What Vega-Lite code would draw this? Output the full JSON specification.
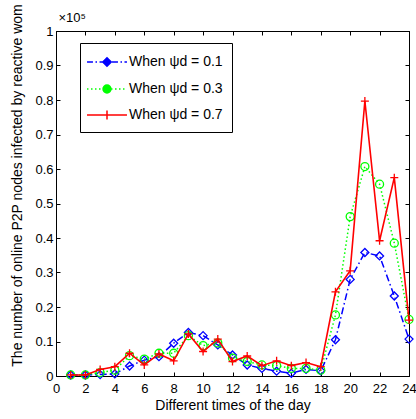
{
  "$schema": "https://vega.github.io/schema/vega-lite/v6.json",
  "width": 353,
  "height": 345,
  "autosize": {"type": "none"},
  "padding": {"left": 56, "top": 31, "right": 7, "bottom": 43},
  "background": "white",
  "datasets": {
    "d": [
      {"t": 1, "v": 0.003, "s": "When ψd = 0.1"}, {"t": 2, "v": 0.003, "s": "When ψd = 0.1"}, {"t": 3, "v": 0.004, "s": "When ψd = 0.1"}, {"t": 4, "v": 0.006, "s": "When ψd = 0.1"},
      {"t": 5, "v": 0.029, "s": "When ψd = 0.1"}, {"t": 6, "v": 0.046, "s": "When ψd = 0.1"}, {"t": 7, "v": 0.056, "s": "When ψd = 0.1"}, {"t": 8, "v": 0.095, "s": "When ψd = 0.1"},
      {"t": 9, "v": 0.126, "s": "When ψd = 0.1"}, {"t": 10, "v": 0.117, "s": "When ψd = 0.1"}, {"t": 11, "v": 0.090, "s": "When ψd = 0.1"}, {"t": 12, "v": 0.061, "s": "When ψd = 0.1"},
      {"t": 13, "v": 0.032, "s": "When ψd = 0.1"}, {"t": 14, "v": 0.022, "s": "When ψd = 0.1"}, {"t": 15, "v": 0.014, "s": "When ψd = 0.1"}, {"t": 16, "v": 0.008, "s": "When ψd = 0.1"},
      {"t": 17, "v": 0.019, "s": "When ψd = 0.1"}, {"t": 18, "v": 0.015, "s": "When ψd = 0.1"}, {"t": 19, "v": 0.105, "s": "When ψd = 0.1"}, {"t": 20, "v": 0.280, "s": "When ψd = 0.1"},
      {"t": 21, "v": 0.358, "s": "When ψd = 0.1"}, {"t": 22, "v": 0.348, "s": "When ψd = 0.1"}, {"t": 23, "v": 0.232, "s": "When ψd = 0.1"}, {"t": 24, "v": 0.107, "s": "When ψd = 0.1"},
      {"t": 1, "v": 0.003, "s": "When ψd = 0.3"}, {"t": 2, "v": 0.003, "s": "When ψd = 0.3"}, {"t": 3, "v": 0.010, "s": "When ψd = 0.3"}, {"t": 4, "v": 0.017, "s": "When ψd = 0.3"},
      {"t": 5, "v": 0.059, "s": "When ψd = 0.3"}, {"t": 6, "v": 0.049, "s": "When ψd = 0.3"}, {"t": 7, "v": 0.066, "s": "When ψd = 0.3"}, {"t": 8, "v": 0.066, "s": "When ψd = 0.3"},
      {"t": 9, "v": 0.117, "s": "When ψd = 0.3"}, {"t": 10, "v": 0.088, "s": "When ψd = 0.3"}, {"t": 11, "v": 0.096, "s": "When ψd = 0.3"}, {"t": 12, "v": 0.052, "s": "When ψd = 0.3"},
      {"t": 13, "v": 0.042, "s": "When ψd = 0.3"}, {"t": 14, "v": 0.032, "s": "When ψd = 0.3"}, {"t": 15, "v": 0.030, "s": "When ψd = 0.3"}, {"t": 16, "v": 0.022, "s": "When ψd = 0.3"},
      {"t": 17, "v": 0.022, "s": "When ψd = 0.3"}, {"t": 18, "v": 0.017, "s": "When ψd = 0.3"}, {"t": 19, "v": 0.177, "s": "When ψd = 0.3"}, {"t": 20, "v": 0.462, "s": "When ψd = 0.3"},
      {"t": 21, "v": 0.607, "s": "When ψd = 0.3"}, {"t": 22, "v": 0.556, "s": "When ψd = 0.3"}, {"t": 23, "v": 0.385, "s": "When ψd = 0.3"}, {"t": 24, "v": 0.164, "s": "When ψd = 0.3"},
      {"t": 1, "v": 0.003, "s": "When ψd = 0.7"}, {"t": 2, "v": 0.003, "s": "When ψd = 0.7"}, {"t": 3, "v": 0.019, "s": "When ψd = 0.7"}, {"t": 4, "v": 0.027, "s": "When ψd = 0.7"},
      {"t": 5, "v": 0.066, "s": "When ψd = 0.7"}, {"t": 6, "v": 0.032, "s": "When ψd = 0.7"}, {"t": 7, "v": 0.064, "s": "When ψd = 0.7"}, {"t": 8, "v": 0.044, "s": "When ψd = 0.7"},
      {"t": 9, "v": 0.122, "s": "When ψd = 0.7"}, {"t": 10, "v": 0.071, "s": "When ψd = 0.7"}, {"t": 11, "v": 0.107, "s": "When ψd = 0.7"}, {"t": 12, "v": 0.042, "s": "When ψd = 0.7"},
      {"t": 13, "v": 0.058, "s": "When ψd = 0.7"}, {"t": 14, "v": 0.030, "s": "When ψd = 0.7"}, {"t": 15, "v": 0.044, "s": "When ψd = 0.7"}, {"t": 16, "v": 0.030, "s": "When ψd = 0.7"},
      {"t": 17, "v": 0.039, "s": "When ψd = 0.7"}, {"t": 18, "v": 0.027, "s": "When ψd = 0.7"}, {"t": 19, "v": 0.244, "s": "When ψd = 0.7"}, {"t": 20, "v": 0.305, "s": "When ψd = 0.7"},
      {"t": 21, "v": 0.797, "s": "When ψd = 0.7"}, {"t": 22, "v": 0.392, "s": "When ψd = 0.7"}, {"t": 23, "v": 0.575, "s": "When ψd = 0.7"}, {"t": 24, "v": 0.162, "s": "When ψd = 0.7"}
    ]
  },
  "data": {"name": "d"},
  "layer": [
    {
      "transform": [{"filter": {"field": "s", "equal": "When ψd = 0.1"}}],
      "mark": {"type": "line", "strokeWidth": 1.5, "color": "#0000ff", "strokeDash": [7, 3, 1.5, 3],
               "point": {"shape": "diamond", "filled": false, "size": 64, "strokeWidth": 1.3, "color": "#0000ff"}},
      "encoding": {
        "x": {"field": "t", "type": "quantitative", "scale": {"domain": [0, 24], "nice": false},
              "axis": {"values": [0, 2, 4, 6, 8, 10, 12, 14, 16, 18, 20, 22, 24], "title": "Different times of the day", "labelPadding": 10, "titlePadding": 3}},
        "y": {"field": "v", "type": "quantitative", "scale": {"domain": [0, 1], "nice": false},
              "axis": {"values": [0, 0.1, 0.2, 0.3, 0.4, 0.5, 0.6, 0.7, 0.8, 0.9, 1], "format": "~g", "title": "The number of online P2P nodes infected by reactive wom", "labelPadding": 7, "titlePadding": 10, "titleY": 154, "titleFontSize": 14}}
      }
    },
    {
      "transform": [{"filter": {"field": "s", "equal": "When ψd = 0.3"}}],
      "mark": {"type": "line", "strokeWidth": 1.5, "color": "#00ff00", "strokeDash": [1.5, 2.5],
               "point": {"shape": "circle", "filled": false, "size": 64, "strokeWidth": 1.3, "color": "#00ff00"}},
      "encoding": {
        "x": {"field": "t", "type": "quantitative",
              "axis": {"orient": "top", "labels": false, "values": [0, 2, 4, 6, 8, 10, 12, 14, 16, 18, 20, 22, 24], "title": "×10⁵", "titleX": 2, "titleY": -10, "titleAlign": "left", "titleBaseline": "alphabetic", "titleFontSize": 13, "titleAngle": 0}},
        "y": {"field": "v", "type": "quantitative", "axis": {"orient": "right", "labels": false, "title": null, "values": [0, 0.1, 0.2, 0.3, 0.4, 0.5, 0.6, 0.7, 0.8, 0.9, 1]}}
      }
    },
    {
      "transform": [{"filter": {"field": "s", "equal": "When ψd = 0.7"}}],
      "mark": {"type": "line", "strokeWidth": 1.6, "color": "#ff0000",
               "point": {"shape": "M-1,0H1M0,-1V1", "filled": false, "size": 64, "strokeWidth": 1.3, "color": "#ff0000"}},
      "encoding": {
        "x": {"field": "t", "type": "quantitative", "axis": null},
        "y": {"field": "v", "type": "quantitative", "axis": null}
      }
    },
    {
      "transform": [{"filter": {"field": "t", "lt": 0}}],
      "mark": {"type": "point", "filled": true, "size": 324},
      "encoding": {
        "x": {"field": "t", "type": "quantitative", "axis": null},
        "y": {"field": "v", "type": "quantitative", "axis": null},
        "color": {"field": "s", "type": "nominal",
                  "scale": {"domain": ["When ψd = 0.1", "When ψd = 0.3", "When ψd = 0.7"], "range": ["#0000ff", "#00ff00", "#ff0000"]},
                  "legend": {"orient": "none", "legendX": 24, "legendY": 12, "title": null, "padding": 9, "symbolSize": 324, "symbolOffset": 8, "labelOffset": 12, "rowPadding": 9, "strokeColor": "black", "fillColor": "white", "labelFont": "Liberation Sans", "labelFontSize": 14, "labelColor": "black", "labelLimit": 300, "symbolOpacity": 1,
                             "encode": {"symbols": {"update": {"fill": {"scale": "color", "field": "value"}, "stroke": {"scale": "color", "field": "value"}, "strokeWidth": {"value": 1.5}, "opacity": {"value": 1}}}}}},
        "shape": {"field": "s", "type": "nominal",
                  "scale": {"domain": ["When ψd = 0.1", "When ψd = 0.3", "When ψd = 0.7"],
                            "range": ["M-2.22,0H-1.56M-1.28,0H-1.11M-0.83,0H-0.17M0.11,0H0.28M0.56,0H1.22M1.5,0H1.67M1.94,0H2.22M0,-0.47L0.47,0L0,0.47L-0.47,0Z",
                                      "M-2.22,0H-2.06M-1.78,0H-1.61M-1.33,0H-1.17M-0.89,0H-0.72M-0.44,0H-0.28M0,0H0.17M0.44,0H0.61M0.89,0H1.06M1.33,0H1.5M1.78,0H1.94M-0.44,0A0.44,0.44,0,1,0,0.44,0A0.44,0.44,0,1,0,-0.44,0Z",
                                      "M-2.22,0H2.22M0,-0.5V0.5"]},
                  "legend": {"orient": "none", "legendX": 24, "legendY": 12, "title": null, "padding": 9, "symbolSize": 324, "symbolOffset": 8, "labelOffset": 12, "rowPadding": 9, "strokeColor": "black", "fillColor": "white", "labelFont": "Liberation Sans", "labelFontSize": 14, "labelColor": "black", "labelLimit": 300, "symbolOpacity": 1,
                             "encode": {"symbols": {"update": {"fill": {"scale": "color", "field": "value"}, "stroke": {"scale": "color", "field": "value"}, "strokeWidth": {"value": 1.5}, "opacity": {"value": 1}}}}}}
      }
    }
  ],
  "resolve": {"axis": {"x": "independent", "y": "independent"}},
  "config": {
    "view": {"stroke": "black", "strokeWidth": 1},
    "axis": {"grid": false, "domainColor": "black", "domainWidth": 1, "tickColor": "black", "tickSize": -4, "tickWidth": 1, "labelFont": "Liberation Sans", "labelFontSize": 13, "labelColor": "black", "titleFont": "Liberation Sans", "titleFontSize": 14, "titleFontWeight": "normal", "titleColor": "black", "labelFlush": false, "labelOverlap": false}
  }
}
